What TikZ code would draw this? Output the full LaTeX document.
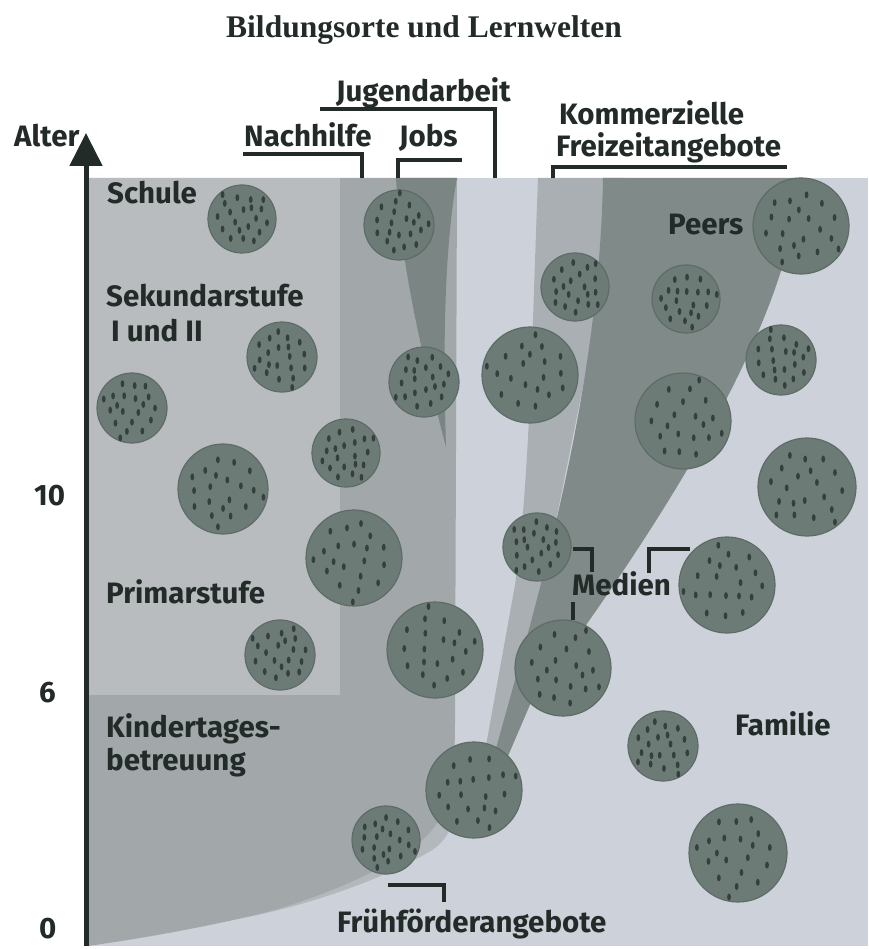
\documentclass[tikz,border=0pt]{standalone}
\usepackage{fontspec}
\usetikzlibrary{arrows.meta}
\newfontfamily\labfam{Fira Sans}
\newfontfamily\titfam{Liberation Serif}
\definecolor{famc}{HTML}{CDD2DA}
\definecolor{schc}{HTML}{B8BCBE}
\definecolor{kitac}{HTML}{A2A8AA}
\definecolor{jobc}{HTML}{7B8684}
\definecolor{peerc}{HTML}{808B89}
\definecolor{kommc}{HTML}{A9AFB2}
\definecolor{fruehc}{HTML}{B2B8BB}
\definecolor{blobc}{HTML}{6D7B76}
\definecolor{blobe}{HTML}{5E6B67}
\definecolor{dotc}{HTML}{35403E}
\definecolor{ink}{HTML}{232B29}
\tikzset{
  blob/.style={circle, fill=blobc, draw=blobe, line width=1.2pt, inner sep=0pt, outer sep=0pt},
  lab/.style={font=\labfam\bfseries\fontsize{29.5}{33}\selectfont, text=ink, inner sep=0pt, anchor=base west},
  brk/.style={draw=ink, line width=4pt},
  axisline/.style={draw=ink, line width=5pt, -{Triangle[width=32pt,length=33pt]}},
}
\newcommand{\blob}[5]{%
  \node[blob, minimum size={2*#4}] (#1) at (#2,#3) {};
  \foreach \u/\v in {-0.55/-0.50,-0.15/-0.68,0.28/-0.62,0.62/-0.32,-0.78/-0.08,-0.38/-0.22,0.05/-0.30,0.45/-0.02,0.80/0.12,-0.62/0.32,-0.22/0.10,0.20/0.24,0.56/0.42,-0.36/0.62,0.04/0.62,0.38/0.70,0.30/-0.36,-0.08/0.36,-0.62/-0.78,0.68/-0.62}{%
    \fill[dotc] ({#2+#4*0.92*(\u*cos(#5)-\v*sin(#5))},{#3+#4*0.92*(\u*sin(#5)+\v*cos(#5))}) ellipse (1.9 and 3.5);
  }%
}
\begin{document}
\begin{tikzpicture}[x=1pt,y=-1pt]
\useasboundingbox (0,0) rectangle (868,949);
\fill[white] (0,0) rectangle (868,949);
% Familie background
\fill[famc] (88,178) rectangle (868,946);
% Fruehfoerder band (outside edge of the Kita region)
\fill[fruehc] (455,750) .. controls (462,815) and (452,840) .. (427,853) .. controls (385,878) and (310,905) .. (247,917) -- (200,850) -- (440,750) -- cycle;
% Kita + Nachhilfe region
\fill[kitac] (88,178) -- (457,178) -- (455,720) .. controls (455,800) and (445,820) .. (420,842) .. controls (380,875) and (300,905) .. (247,917) .. controls (180,932) and (130,940) .. (88,946) -- cycle;
% Schule region
\fill[schc] (88,178) rectangle (340,695);
% Jobs wedge
\fill[jobc] (396,178) -- (457,178) .. controls (444,250) and (443,350) .. (446,447) .. controls (415,330) and (400,250) .. (396,178) -- cycle;
% Kommerzielle Freizeitangebote
\fill[kommc] (538,178) -- (625,178) -- (540,600) -- (492,770) -- (478,775) -- (487,740) -- (515,585) .. controls (530,480) and (532,330) .. (538,178) -- cycle;
% Peers
\fill[peerc] (603,178) -- (800,178) .. controls (790,330) and (650,540) .. (532,700) -- (502,770) -- (490,770) -- (515,680) .. controls (560,520) and (600,350) .. (603,178) -- cycle;
% circles
\blob{c1}{242}{219}{34}{0}
\blob{c2}{399}{225}{35}{40}
\blob{c3}{575}{287}{34}{80}
\blob{c4}{686}{299}{34}{120}
\blob{c5}{801}{226}{48}{160}
\blob{c6}{282}{357}{35}{200}
\blob{c7}{132}{408}{35}{240}
\blob{c8}{424}{382}{35}{280}
\blob{c9}{530}{375}{48}{320}
\blob{c10}{781}{360}{35}{20}
\blob{c11}{683}{421}{48}{60}
\blob{c12}{346}{453}{34}{100}
\blob{c13}{223}{489}{45}{140}
\blob{c14}{807}{487}{49}{180}
\blob{c15}{354}{558}{48}{220}
\blob{c16}{537}{547}{34}{260}
\blob{c17}{727}{585}{48}{300}
\blob{c18}{280}{655}{35}{340}
\blob{c19}{435}{650}{48}{30}
\blob{c20}{563}{668}{48}{70}
\blob{c21}{474}{790}{48}{110}
\blob{c22}{386}{840}{34}{150}
\blob{c23}{663}{746}{35}{190}
\blob{c24}{738}{853}{49}{230}
% axis
\coordinate (axbot) at (86,946);
\coordinate (axtop) at (86,133);
\draw[axisline] (axbot) -- (axtop);
% brackets
\coordinate (j1) at (320,109); \coordinate (j2) at (495,109); \coordinate (j3) at (495,178);
\draw[brk] (j1) -- (j2) -- (j3);
\coordinate (n1) at (243,154); \coordinate (n2) at (362,154); \coordinate (n3) at (362,178);
\draw[brk] (n1) -- (n2) -- (n3);
\coordinate (b1) at (398,178); \coordinate (b2) at (398,160); \coordinate (b3) at (462,160);
\draw[brk] (b1) -- (b2) -- (b3);
\coordinate (k1) at (553,178); \coordinate (k2) at (553,167); \coordinate (k3) at (787,167);
\draw[brk] (k1) -- (k2) -- (k3);
\coordinate (m1) at (573,549); \coordinate (m2) at (592,549); \coordinate (m3) at (592,572);
\draw[brk] (m1) -- (m2) -- (m3);
\coordinate (m4) at (649,573); \coordinate (m5) at (649,549); \coordinate (m6) at (690,549);
\draw[brk] (m4) -- (m5) -- (m6);
\coordinate (m7) at (573,602); \coordinate (m8) at (573,620);
\draw[brk] (m7) -- (m8);
\coordinate (f1) at (388,885); \coordinate (f2) at (444,885); \coordinate (f3) at (444,902);
\draw[brk] (f1) -- (f2) -- (f3);
% texts
\node[font=\titfam\bfseries\fontsize{31.5}{35}\selectfont, text=ink, inner sep=0pt, anchor=base] (title) at (424,38) {Bildungsorte und Lernwelten};
\node[lab] (alter) at (14,147) {Alter};
\node[lab] (jug) at (336,102) {Jugendarbeit};
\node[lab] (nach) at (244,147) {Nachhilfe};
\node[lab] (jobs) at (399,147) {Jobs};
\node[lab] (komm1) at (559,125) {Kommerzielle};
\node[lab] (komm2) at (556,157) {Freizeitangebote};
\node[lab] (schule) at (107,204) {Schule};
\node[lab] (peers) at (668,235) {Peers};
\node[lab] (sek1) at (106,306) {Sekundarstufe};
\node[lab] (sek2) at (111,341) {I und II};
\node[lab] (prim) at (106,603) {Primarstufe};
\node[lab] (medien) at (572,595) {Medien};
\node[lab] (kita1) at (106,737) {Kindertages-};
\node[lab] (kita2) at (106,770) {betreuung};
\node[lab] (fam) at (735,735) {Familie};
\node[lab] (frueh) at (337,932) {Frühförderangebote};
\node[lab] (t10) at (34,505) {10};
\node[lab] (t6) at (39,702) {6};
\node[lab] (t0) at (39,938) {0};
\end{tikzpicture}
\end{document}
